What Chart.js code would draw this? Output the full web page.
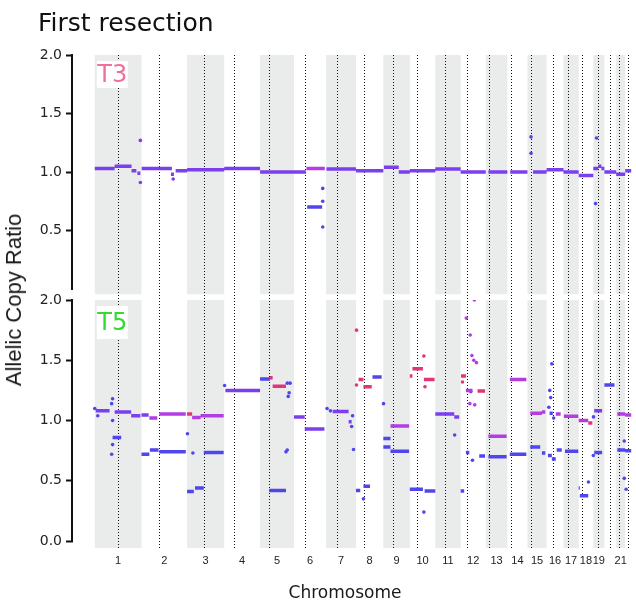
<!DOCTYPE html>
<html>
<head>
<meta charset="utf-8">
<title>First resection</title>
<script src="https://cdn.jsdelivr.net/npm/chart.js@4.4.1/dist/chart.umd.min.js"></script>
<style>
  html, body { margin: 0; padding: 0; background: #fff; }
  #wrap { position: relative; width: 636px; height: 603px; overflow: hidden; }
  .axisTitle { position: absolute; white-space: nowrap; color: #1a1a1a; }
  #yTitle { left: 14px; top: 300px; transform: translate(-50%, -50%) rotate(-90deg);
            font: 22px "Liberation Sans", Arial, sans-serif; }
  #xTitle { left: 345px; top: 592px; transform: translate(-50%, -50%);
            font: 17px "DejaVu Sans", sans-serif; }
</style>
</head>
<body>
<div id="wrap">
  <canvas id="myChart" width="636" height="603"></canvas>
  <div class="axisTitle" id="yTitle">Allelic Copy Ratio</div>
  <div class="axisTitle" id="xTitle">Chromosome</div>
</div>
<script>
// genome layout (hg19, Mb)
const chromSizes = [249, 243, 198, 191, 181, 171, 159, 146, 141, 136, 135, 134, 115, 107, 102, 90, 81, 78, 59, 63, 48, 51];
const centromeres = [125, 93, 91, 50, 48, 60, 59, 45, 49, 40, 53, 35, 17, 17, 19, 36, 24, 17, 26, 28, 13, 14];
const tickLabels = ['1', '2', '3', '4', '5', '6', '7', '8', '9', '10', '11', '12', '13', '14', '15', '16', '17', '18', '19', '', '21', ''];
const yTicksT3 = [0.5, 1, 1.5, 2];
const yTicksT5 = [0, 0.5, 1, 1.5, 2];

// segments: [chromosome, start Mb, end Mb, allelic copy ratio, call]
const t3Segments = [
    [1, 0, 106, 1.03, 'P'], [1, 106, 196, 1.05, 'P'], [1, 196, 222, 1.01, 'P'], [1, 227, 243, 0.99, 'P'],
    [2, 1, 162, 1.03, 'P'], [2, 157, 173, 0.98, 'P'], [2, 182, 243, 1.01, 'P'],
    [3, 0, 198, 1.02, 'P'],
    [4, 0, 191, 1.03, 'P'],
    [5, 0, 181, 1.0, 'P'],
    [6, 0, 63, 1.0, 'P'], [6, 66, 164, 1.03, 'M'], [6, 70, 150, 0.70, 'B'],
    [7, 2, 159, 1.025, 'P'],
    [8, 0, 146, 1.01, 'P'],
    [9, 3, 82, 1.04, 'P'], [9, 82, 141, 1.0, 'P'],
    [10, 0, 136, 1.01, 'P'],
    [11, 0, 135, 1.025, 'P'],
    [12, 0, 134, 1.0, 'P'],
    [13, 14, 115, 1.0, 'P'],
    [14, 15, 107, 1.0, 'P'],
    [15, 30, 102, 1.0, 'P'],
    [16, 0, 90, 1.02, 'P'],
    [17, 0, 81, 1.0, 'P'],
    [18, 0, 78, 0.97, 'P'],
    [19, 0, 27, 1.03, 'P'], [19, 27, 43, 1.05, 'P'], [19, 43, 59, 1.03, 'P'],
    [20, 0, 63, 1.0, 'P'],
    [21, 0, 48, 0.98, 'P'],
    [22, 0, 51, 1.01, 'P']
];
const t5Segments = [
    [1, 5, 79, 1.08, 'P'], [1, 106, 194, 1.07, 'P'], [1, 194, 243, 1.04, 'P'], [1, 95, 141, 0.86, 'B'],
    [2, 0, 38, 1.045, 'P'], [2, 42, 84, 1.02, 'M'], [2, 95, 236, 1.055, 'M'],
    [2, 0, 42, 0.72, 'B'], [2, 45, 91, 0.755, 'B'], [2, 95, 236, 0.74, 'B'],
    [3, 0, 27, 1.055, 'R'], [3, 27, 72, 1.025, 'M'], [3, 72, 195, 1.04, 'M'],
    [3, 0, 36, 0.41, 'B'], [3, 42, 89, 0.44, 'B'], [3, 89, 195, 0.735, 'B'],
    [4, 6, 191, 1.25, 'P'],
    [5, 0, 53, 1.345, 'B'], [5, 53, 67, 1.355, 'R'], [5, 67, 138, 1.285, 'R'], [5, 49, 138, 0.42, 'B'],
    [6, 0, 57, 1.03, 'P'], [6, 57, 162, 0.93, 'P'],
    [7, 35, 120, 1.075, 'P'], [7, 120, 136, 0.99, 'P'],
    [8, 14, 40, 1.34, 'R'], [8, 40, 84, 1.28, 'R'], [8, 88, 137, 1.36, 'B'],
    [8, 0, 23, 0.42, 'B'], [8, 40, 75, 0.455, 'B'],
    [9, 0, 38, 0.85, 'B'], [9, 0, 38, 0.78, 'B'], [9, 38, 137, 0.745, 'B'], [9, 38, 137, 0.955, 'M'],
    [10, 0, 14, 1.37, 'R'], [10, 14, 70, 1.43, 'R'], [10, 75, 132, 1.34, 'R'],
    [10, 0, 70, 0.43, 'B'], [10, 79, 136, 0.415, 'B'],
    [11, 0, 101, 1.055, 'P'], [11, 101, 127, 1.03, 'P'],
    [12, 0, 19, 0.415, 'B'], [12, 2, 28, 1.37, 'R'], [12, 28, 63, 1.25, 'M'], [12, 90, 130, 1.245, 'R'],
    [12, 28, 46, 0.735, 'B'], [12, 99, 130, 0.705, 'B'],
    [13, 14, 111, 0.87, 'M'], [13, 14, 111, 0.70, 'B'],
    [14, 13, 101, 1.34, 'M'], [14, 13, 101, 0.72, 'B'],
    [15, 15, 77, 1.06, 'M'], [15, 77, 95, 1.07, 'M'], [15, 15, 68, 0.78, 'B'], [15, 77, 95, 0.73, 'B'],
    [16, 16, 33, 1.06, 'B'], [16, 49, 75, 1.055, 'M'], [16, 7, 28, 0.71, 'B'], [16, 28, 49, 0.68, 'B'], [16, 54, 81, 0.755, 'B'],
    [17, 2, 79, 1.035, 'M'], [17, 8, 79, 0.745, 'B'],
    [18, 0, 51, 1.0, 'M'], [18, 51, 73, 0.98, 'R'], [18, 0, 6, 0.44, 'B'], [18, 6, 51, 0.375, 'B'],
    [19, 5, 47, 1.08, 'P'], [19, 5, 47, 0.735, 'B'],
    [20, 0, 54, 1.295, 'B'],
    [21, 6, 48, 1.055, 'M'], [21, 6, 48, 0.755, 'B'],
    [22, 0, 51, 1.045, 'M'], [22, 0, 51, 0.75, 'B']
];

// isolated probes: [chromosome, position Mb, allelic copy ratio, call]
const t3Points = [
    [1, 243, 1.27, 'P'], [1, 243, 0.91, 'P'], [2, 169, 0.94, 'P'],
    [6, 153, 0.75, 'B'], [6, 153, 0.86, 'B'], [6, 153, 0.53, 'B'],
    [15, 19, 1.16, 'B'], [15, 19, 1.3, 'B'], [19, 12, 0.73, 'B'], [19, 17, 1.29, 'B']
];
const t5Points = [
    [1, 0, 1.1, 'B'], [1, 95, 1.18, 'B'], [1, 90, 1.14, 'B'], [1, 95, 1.0, 'B'], [1, 95, 0.8, 'B'], [1, 90, 0.72, 'B'], [1, 16, 1.04, 'B'],
    [3, 31, 0.73, 'B'], [3, 2, 0.89, 'B'], [4, 2, 1.29, 'B'],
    [5, 145, 1.31, 'B'], [5, 160, 1.31, 'B'], [5, 155, 1.23, 'B'], [5, 150, 1.2, 'B'], [5, 145, 0.755, 'B'], [5, 138, 0.74, 'B'],
    [7, 5, 1.1, 'B'], [7, 23, 1.08, 'B'], [7, 146, 0.76, 'B'], [7, 141, 1.04, 'B'], [7, 136, 0.95, 'B'],
    [8, 3, 1.295, 'R'], [8, 40, 0.35, 'B'], [8, 3, 1.75, 'R'],
    [9, 1, 1.14, 'B'],
    [10, 75, 1.535, 'R'], [10, 81, 1.28, 'R'], [10, 75, 0.24, 'B'],
    [11, 103, 0.88, 'B'],
    [12, 73, 2.0, 'M'], [12, 30, 1.85, 'M'], [12, 51, 1.71, 'M'], [12, 60, 1.54, 'M'], [12, 70, 1.5, 'M'], [12, 84, 1.48, 'M'],
    [12, 49, 1.14, 'M'], [12, 75, 1.13, 'M'], [12, 54, 1.24, 'B'], [12, 63, 0.67, 'B'], [12, 10, 1.32, 'R'],
    [16, 28, 1.47, 'B'], [16, 17, 1.25, 'B'], [16, 12, 1.11, 'B'], [16, 22, 1.19, 'B'], [16, 38, 1.02, 'B'],
    [18, 52, 0.49, 'B'], [19, 1, 1.03, 'B'], [19, 0, 0.71, 'B'],
    [21, 43, 0.83, 'B'], [21, 43, 0.52, 'B'], [22, 5, 0.43, 'B']
];

const callColors = { P: '#7b3ff0', M: '#b33de2', R: '#e1347a', B: '#5046ee' };
const bandColor = '#e9ecea';

const chromOffsets = [];
let acc = 0;
chromSizes.forEach(s => { chromOffsets.push(acc); acc += s; });
const genomePos = (chr, mb) => chromOffsets[chr - 1] + mb;
const chromCenters = chromSizes.map((s, i) => chromOffsets[i] + s / 2);

function segmentSets(segs, axis) {
    return Object.keys(callColors).map(call => {
        const data = [];
        segs.filter(s => s[4] === call).forEach(s => {
            data.push({ x: genomePos(s[0], s[1]), y: s[3] });
            data.push({ x: genomePos(s[0], s[2]), y: s[3] });
            data.push({ x: genomePos(s[0], s[2]), y: null });
        });
        return {
            data: data, yAxisID: axis, showLine: true, spanGaps: false,
            borderColor: callColors[call], borderWidth: 3.5, borderCapStyle: 'butt',
            pointRadius: 0
        };
    });
}

function pointSet(pts, axis) {
    return {
        data: pts.map(p => ({ x: genomePos(p[0], p[1]), y: p[2] })),
        yAxisID: axis, showLine: false,
        pointRadius: 1.8, pointBorderWidth: 0,
        pointBackgroundColor: pts.map(p => callColors[p[3]])
    };
}

const panelDecor = {
    id: 'panelDecor',
    beforeDatasetsDraw(chart) {
        const { ctx, chartArea } = chart;
        const x = chart.scales.x, yT = chart.scales.yT, yB = chart.scales.yB;
        ctx.save();
        ctx.beginPath();
        ctx.rect(chartArea.left, 0, chartArea.right - chartArea.left, chart.height);
        ctx.clip();
        // alternating chromosome bands
        [[yT, -0.045], [yB, yB.min]].forEach(([ys, floor]) => {
            const top = ys.getPixelForValue(2), bottom = ys.getPixelForValue(floor);
            ctx.fillStyle = bandColor;
            chromSizes.forEach((size, i) => {
                if (i % 2) return;
                const x0 = x.getPixelForValue(chromOffsets[i]);
                const x1 = x.getPixelForValue(chromOffsets[i] + size);
                ctx.fillRect(x0, top, x1 - x0, bottom - top);
            });
        });
        // centromeres
        ctx.strokeStyle = '#111';
        ctx.lineWidth = 1;
        ctx.setLineDash([1, 2]);
        const yTop = yT.getPixelForValue(2), yBot = yB.getPixelForValue(yB.min);
        centromeres.forEach((c, i) => {
            const px = Math.round(x.getPixelForValue(chromOffsets[i] + c)) + 0.5;
            ctx.beginPath();
            ctx.moveTo(px, yTop);
            ctx.lineTo(px, yBot);
            ctx.stroke();
        });
        ctx.setLineDash([]);
        // sample tags
        const tagX = x.getPixelForValue(0) + 2;
        [[yT, 'T3', '#ef7199', 27], [yB, 'T5', '#30dc30', 33]].forEach(([ys, label, color, h]) => {
            const top = ys.getPixelForValue(2) + 6;
            ctx.fillStyle = '#ffffff';
            ctx.fillRect(tagX, top, 31, h);
            ctx.fillStyle = color;
            ctx.font = '24px "DejaVu Sans"';
            ctx.textAlign = 'center';
            ctx.textBaseline = 'middle';
            ctx.fillText(label, tagX + 15.5, top + h / 2 + 1);
        });
        ctx.restore();
        // y axis lines (2.0 down to 0.0 in each panel)
        ctx.save();
        ctx.strokeStyle = '#111';
        ctx.lineWidth = 2;
        [yT, yB].forEach(ys => {
            ctx.beginPath();
            ctx.moveTo(chartArea.left - 1, ys.getPixelForValue(2) - 1);
            ctx.lineTo(chartArea.left - 1, ys.getPixelForValue(0) + 1);
            ctx.stroke();
        });
        ctx.restore();
    }
};

function yAxis(weight, min, tickList) {
    return {
        type: 'linear', position: 'left', stack: 'panels', stackWeight: weight,
        min: min, max: 2,
        afterBuildTicks: s => { s.ticks = tickList.map(v => ({ value: v })); },
        afterFit: s => { s.width = 35; },
        grid: { display: true, drawOnChartArea: false, drawTicks: true, tickLength: 7, tickWidth: 2, tickColor: '#111' },
        border: { display: false },
        ticks: { font: { family: 'DejaVu Sans', size: 14 }, color: '#222', padding: 4, callback: v => v.toFixed(1) }
    };
}

Chart.defaults.font.family = 'DejaVu Sans';

const chartInstance = new Chart('myChart', {
    type: 'scatter',
    data: {
        datasets: segmentSets(t3Segments, 'yT').concat(segmentSets(t5Segments, 'yB'))
            .concat([pointSet(t3Points, 'yT'), pointSet(t5Points, 'yB')])
    },
    options: {
        responsive: false,
        animation: false,
        layout: { padding: { left: 38, top: 0, right: 0, bottom: 0 } },
        plugins: {
            legend: { display: false },
            tooltip: { enabled: false },
            title: {
                display: true, text: 'First resection', align: 'start', color: '#111',
                font: { family: 'DejaVu Sans', size: 25, weight: 'normal' },
                padding: { top: 9, bottom: 16 }
            }
        },
        scales: {
            x: {
                type: 'linear', min: -116, max: 2859,
                afterBuildTicks: s => { s.ticks = chromCenters.map(v => ({ value: v })); },
                afterFit: s => { s.height = 55; },
                grid: { display: false, drawTicks: false },
                border: { display: false },
                ticks: {
                    autoSkip: false, maxRotation: 0, padding: 6, color: '#222',
                    font: { family: 'Liberation Sans', size: 11 },
                    callback: (v, i) => tickLabels[i]
                }
            },
            yB: yAxis(248, -0.058, yTicksT5),
            yT: yAxis(245, -0.094, yTicksT3)
        }
    },
    plugins: [panelDecor]
});
</script>
</body>
</html>
